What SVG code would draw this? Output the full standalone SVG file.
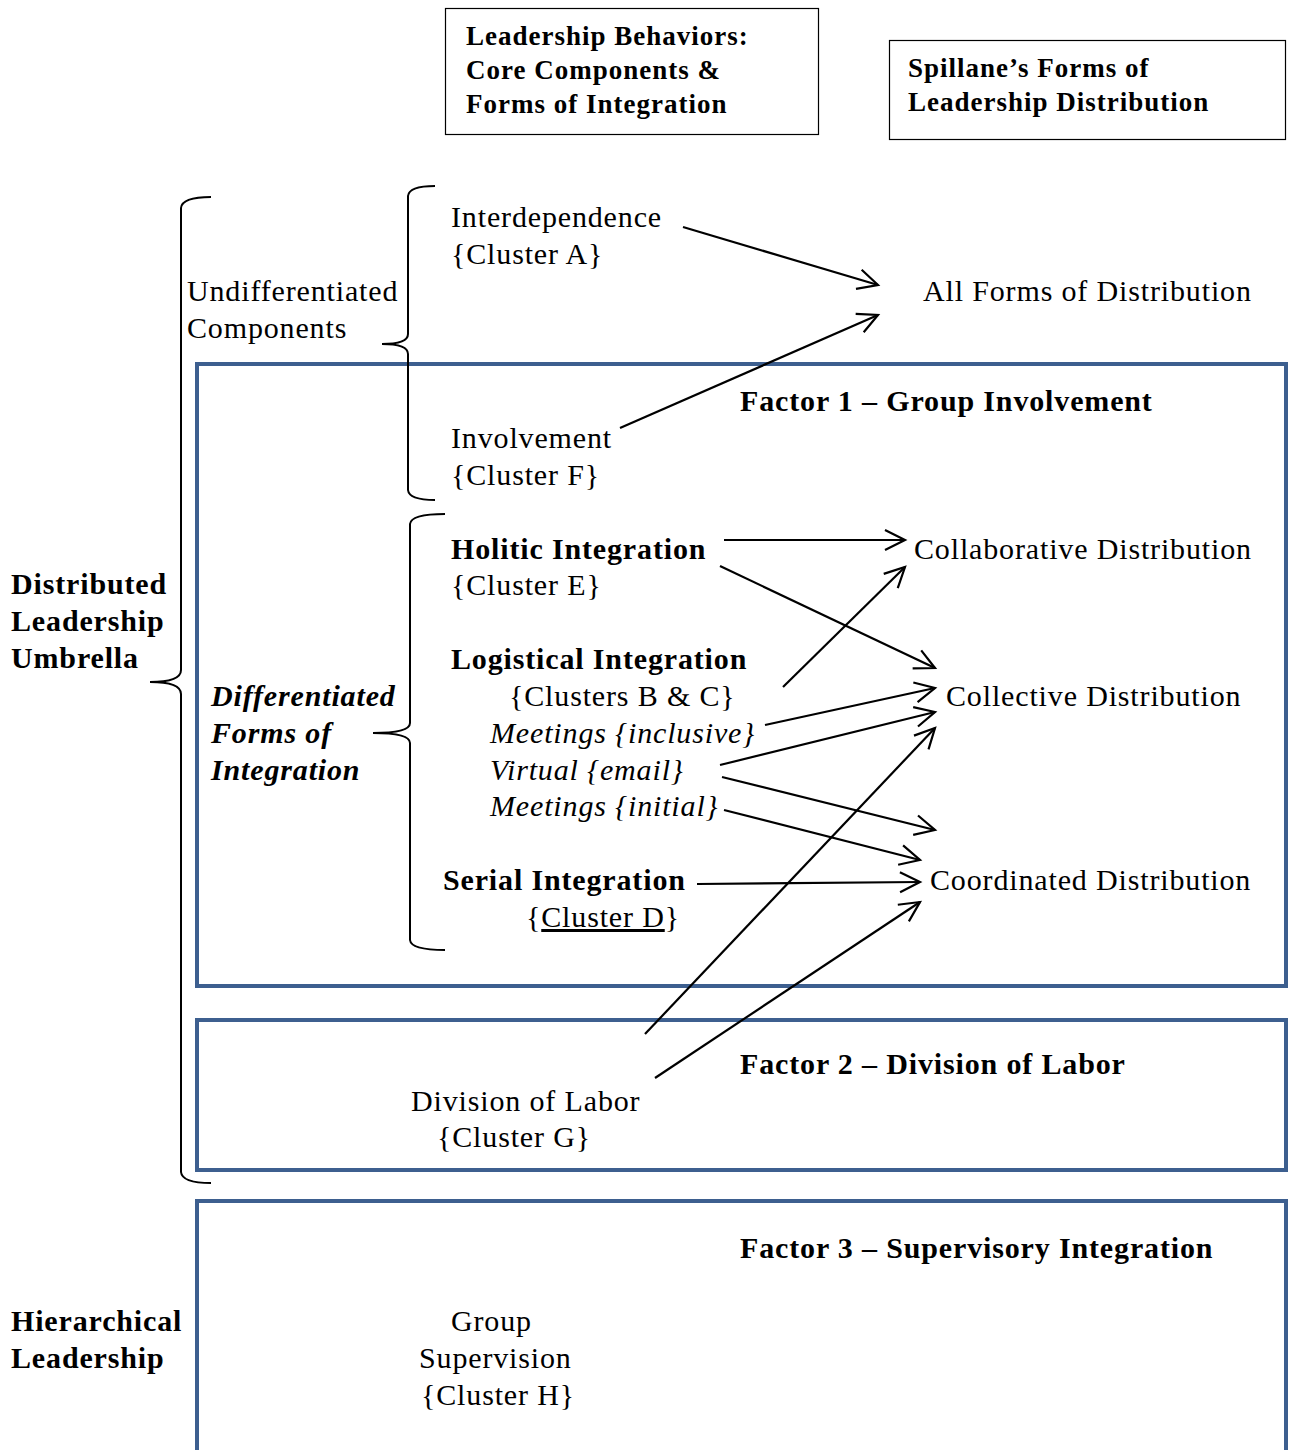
<svg xmlns="http://www.w3.org/2000/svg" width="1290" height="1450" viewBox="0 0 1290 1450">
<style>
text{font-family:"Liberation Serif","Times New Roman",serif;font-size:30px;letter-spacing:0.85px;fill:#000}
.b{font-weight:bold}
.i{font-style:italic}
.hb{font-weight:bold;font-size:27px;letter-spacing:1px}
.box{fill:none;stroke:#000;stroke-width:1.2}
.fac{fill:none;stroke:#3D5F8F;stroke-width:4}
.br{fill:none;stroke:#000;stroke-width:2}
.c{fill:none;stroke:#000;stroke-width:2.2;marker-end:url(#ah)}
</style>
<defs>
<marker id="ah" markerUnits="userSpaceOnUse" markerWidth="26" markerHeight="26" refX="22" refY="12" orient="auto" viewBox="0 0 26 24">
<path d="M2,2 L22,12 L2,22" fill="none" stroke="#000" stroke-width="2.2"/>
</marker>
</defs>
<rect width="1290" height="1450" fill="#fff"/>

<g id="header1"><rect class="box" x="445.5" y="8.5" width="373" height="126"/>
<text class="hb" x="466" y="45">Leadership Behaviors:</text>
<text class="hb" x="466" y="79">Core Components &amp;</text>
<text class="hb" x="466" y="113">Forms of Integration</text></g>
<g id="header2"><rect class="box" x="889.5" y="40.5" width="396" height="99"/>
<text class="hb" x="908" y="77">Spillane’s Forms of</text>
<text class="hb" x="908" y="111">Leadership Distribution</text></g>

<g id="factor1"><rect class="fac" x="197" y="364" width="1089" height="622"/>
<text class="b" x="740" y="411">Factor 1 – Group Involvement</text></g>
<g id="factor2"><rect class="fac" x="197" y="1020" width="1089" height="150"/>
<text class="b" x="740" y="1074">Factor 2 – Division of Labor</text></g>
<g id="factor3"><path class="fac" d="M197,1452 L197,1201 L1286,1201 L1286,1452"/>
<text class="b" x="740" y="1258">Factor 3 – Supervisory Integration</text></g>

<g id="brace-umbrella"><path class="br" d="M211,197 Q182,197 181,208 L181,670 Q181,682 150,682 Q181,682 181,694 L181,1172 Q182,1183 211,1183"/></g>
<g id="brace-undiff"><path class="br" d="M435,186 Q409,186 408,196 L408,334 Q408,344 382,344 Q408,344 408,354 L408,490 Q409,500 435,500"/></g>
<g id="brace-diff"><path class="br" d="M445,514 Q411,514 410,524 L410,723 Q410,733 373,733 Q410,733 410,743 L410,940 Q411,950 445,950"/></g>

<g id="umbrella"><text class="b" x="11" y="594">Distributed</text><text class="b" x="11" y="631">Leadership</text><text class="b" x="11" y="668">Umbrella</text></g>
<g id="hierarchical"><text class="b" x="11" y="1331">Hierarchical</text><text class="b" x="11" y="1368">Leadership</text></g>
<g id="undiff"><text x="187" y="301">Undifferentiated</text><text x="187" y="338">Components</text></g>
<g id="diff"><text class="b i" x="211" y="706">Differentiated</text><text class="b i" x="211" y="743">Forms of</text><text class="b i" x="211" y="780">Integration</text></g>

<g id="interdependence"><text x="451" y="227">Interdependence</text><text x="451" y="264">{Cluster A}</text></g>
<g id="involvement"><text x="451" y="448">Involvement</text><text x="451" y="485">{Cluster F}</text></g>
<g id="holitic"><text class="b" x="451" y="559">Holitic Integration</text><text x="451" y="595">{Cluster E}</text></g>
<g id="logistical"><text class="b" x="451" y="669">Logistical Integration</text><text x="509" y="706">{Clusters B &amp; C}</text>
<text class="i" x="490" y="743">Meetings {inclusive}</text>
<text class="i" x="490" y="780">Virtual {email}</text>
<text class="i" x="490" y="816">Meetings {initial}</text></g>
<g id="serial"><text class="b" x="443" y="890">Serial Integration</text><text x="526" y="927">{<tspan text-decoration="underline">Cluster D</tspan>}</text></g>
<g id="division"><text x="411" y="1111">Division of Labor</text><text x="437" y="1147">{Cluster G}</text></g>
<g id="group"><text x="451" y="1331">Group</text><text x="419" y="1368">Supervision</text><text x="421" y="1405">{Cluster H}</text></g>

<g id="all-forms"><text x="923" y="301">All Forms of Distribution</text></g>
<g id="collaborative"><text x="914" y="559">Collaborative Distribution</text></g>
<g id="collective"><text x="946" y="706">Collective Distribution</text></g>
<g id="coordinated"><text x="930" y="890">Coordinated Distribution</text></g>

<g id="connectors">
<path class="c" d="M683,227 L878,285"/>
<path class="c" d="M620,428 L878,315"/>
<path class="c" d="M724,540 L905,540"/>
<path class="c" d="M720,566 L935,668"/>
<path class="c" d="M783,687 L905,567"/>
<path class="c" d="M765,725 L935,688"/>
<path class="c" d="M720,765 L935,712"/>
<path class="c" d="M722,777 L935,830"/>
<path class="c" d="M724,810 L920,860"/>
<path class="c" d="M697,884 L920,882"/>
<path class="c" d="M645,1034 L935,728"/>
<path class="c" d="M655,1078 L920,902"/>
</g>
</svg>
